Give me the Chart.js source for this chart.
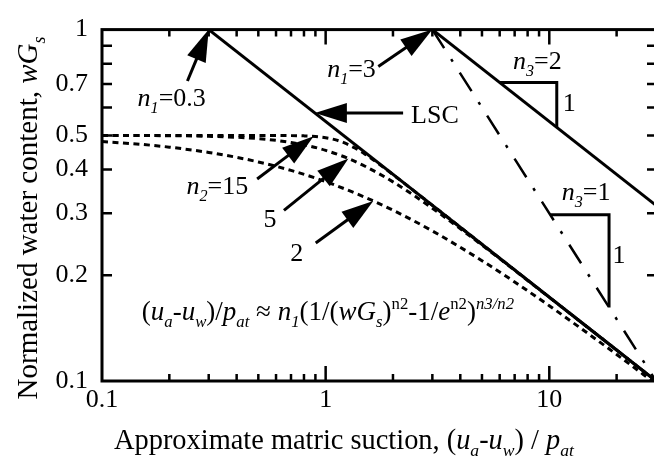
<!DOCTYPE html>
<html><head><meta charset="utf-8">
<script src="https://cdn.jsdelivr.net/npm/chart.js@4.4.1/dist/chart.umd.min.js"></script>
<style>
html,body{margin:0;padding:0;overflow:hidden;background:#fff;width:654px;height:467px}
#wrap{position:absolute;left:0;top:0;width:660px;height:467px}
</style>
</head><body><div id="wrap"><canvas id="c" width="660" height="467"></canvas></div>
<script>
// ---------- data ----------
const xTickValues = [0.1,0.2,0.3,0.4,0.5,0.6,0.7,0.8,0.9,1,2,3,4,5,6,7,8,9,10,20,30];
const xMajorTicks = [1,10];
const xTickLabels = ['0.1','1','10'];
const yTickValues = [0.1,0.2,0.3,0.4,0.5,0.6,0.7,0.8,0.9,1];
const yTickLabels = ['0.1','0.2','0.3','0.4','0.5','0.7','1'];

// LSC (n1=0.3, n3=2)
const lscX = [0.3, 30];
const lscY = [1, 0.1];
// n1=3, n3=2
const n3is2X = [3, 30];
const n3is2Y = [1, 0.316];
// n1=3, n3=1 (dash-dot)
const n3is1X = [3, 30];
const n3is1Y = [1, 0.1];
// dotted curves
const n2is15X = [0.1,0.3,0.5,0.7,0.8,0.9,1,1.1,1.2,1.35,1.5,1.75,2,2.5,3,5,10,20,30];
const n2is15Y = [0.5,0.5,0.5,0.4994,0.4984,0.4964,0.4925,0.4862,0.4774,0.4607,0.4421,0.4125,0.3868,0.3463,0.3162,0.2449,0.1732,0.1225,0.1];
const n2is5X = [0.1,0.2,0.3,0.5,0.7,0.85,1,1.25,1.5,2,3,5,7,10,15,20,30];
const n2is5Y = [0.4998,0.4989,0.497,0.4895,0.4774,0.466,0.4532,0.4308,0.4085,0.3687,0.3102,0.2436,0.2065,0.173,0.1414,0.1225,0.1];
const n2is2X = [0.1,0.15,0.2,0.3,0.4,0.5,0.7,1,1.5,2,3,5,7,10,15,20,30];
const n2is2Y = [0.4804,0.4714,0.4629,0.4472,0.433,0.4201,0.3974,0.3693,0.3333,0.3062,0.2673,0.22,0.1913,0.1637,0.1361,0.119,0.0981];
// slope triangles
const tri2X = [6, 10.8, 10.8];
const tri2Y = [0.7071, 0.7071, 0.527];
const tri1X = [10.1, 18.5, 18.5];
const tri1Y = [0.297, 0.297, 0.162];

// ---------- annotations (data coordinates) ----------
const arrows = [
  {from:[0.241,0.714], to:[0.3,1]},
  {from:[1.72,0.785],  to:[3,1]},
  {from:[2.22,0.579],  to:[0.895,0.579]},
  {from:[0.494,0.3756],to:[0.884,0.497]},
  {from:[0.651,0.306], to:[1.265,0.43]},
  {from:[0.903,0.247], to:[1.633,0.325]}
];
const labels = [
  {at:[0.205,0.605], align:'center', segs:[{t:'n',i:1},{t:'1',i:1,b:'sub'},{t:'=0.3'}]},
  {at:[1.305,0.732], align:'center', segs:[{t:'n',i:1},{t:'1',i:1,b:'sub'},{t:'=3'}]},
  {at:[2.41,0.543],  align:'left',   segs:[{t:'LSC'}]},
  {at:[0.328,0.341], align:'center', segs:[{t:'n',i:1},{t:'2',i:1,b:'sub'},{t:'=15'}]},
  {at:[0.564,0.275], align:'center', segs:[{t:'5'}]},
  {at:[0.743,0.220], align:'center', segs:[{t:'2'}]},
  {at:[8.84,0.770],  align:'center', segs:[{t:'n',i:1},{t:'3',i:1,b:'sub'},{t:'=2'}]},
  {at:[12.27,0.586], align:'center', segs:[{t:'1'}]},
  {at:[14.6,0.3265], align:'center', segs:[{t:'n',i:1},{t:'3',i:1,b:'sub'},{t:'=1'}]},
  {at:[20.5,0.216],  align:'center', segs:[{t:'1'}]},
  {at:[0.1507,0.149],align:'left', size:27, segs:[
    {t:'('},{t:'u',i:1},{t:'a',i:1,b:'sub'},{t:'-'},{t:'u',i:1},{t:'w',i:1,b:'sub'},{t:')/'},
    {t:'p',i:1},{t:'at',i:1,b:'sub'},{t:' \u2248 '},{t:'n',i:1},{t:'1',i:1,b:'sub'},
    {t:'(1/('},{t:'wG',i:1},{t:'s',i:1,b:'sub'},{t:')'},{t:'n2',b:'sup'},{t:'-1/'},{t:'e',i:1},{t:'n2',b:'sup'},{t:')'},{t:'n3/n2',i:1,b:'sup'}
  ]}
];

const FONT = '"Liberation Serif", "Times New Roman", serif';
const LBL = 26;
const TITLE = 28.4;

function pts(xs, ys){ return xs.map((x,i)=>({x:x, y:ys[i]})); }
function near(v, list){ return list.some(a => Math.abs(Math.log10(v) - Math.log10(a)) < 1e-6); }
function labelFor(v, list){ const s = list.find(a => Math.abs(Math.log10(v) - Math.log10(parseFloat(a))) < 1e-6); return s === undefined ? '' : s; }

function rich(ctx, segs, x, y, size, align){
  const parts = segs.map(s => {
    const sz = s.b ? size*0.62 : size;
    const f = (s.i ? 'italic ' : '') + sz + 'px ' + FONT;
    ctx.font = f;
    return {t:s.t, f:f, w:ctx.measureText(s.t).width, dy: s.b==='sub' ? size*0.26 : (s.b==='sup' ? -size*0.40 : 0)};
  });
  const W = parts.reduce((a,p)=>a+p.w, 0);
  let cx = align==='center' ? x - W/2 : (align==='right' ? x - W : x);
  ctx.textAlign = 'left'; ctx.textBaseline = 'alphabetic';
  for (const p of parts){ ctx.font = p.f; ctx.fillText(p.t, cx, y + p.dy); cx += p.w; }
  return W;
}

function arrow(ctx, x1,y1,x2,y2){
  const hl = 32, hw = 10;
  const a = Math.atan2(y2-y1, x2-x1);
  const bx = x2 - hl*Math.cos(a), by = y2 - hl*Math.sin(a);
  ctx.lineWidth = 3; ctx.lineCap = 'butt';
  ctx.beginPath(); ctx.moveTo(x1,y1); ctx.lineTo(bx + 2*Math.cos(a), by + 2*Math.sin(a)); ctx.stroke();
  ctx.beginPath(); ctx.moveTo(x2,y2);
  ctx.lineTo(bx + hw*Math.sin(a), by - hw*Math.cos(a));
  ctx.lineTo(bx - hw*Math.sin(a), by + hw*Math.cos(a));
  ctx.closePath(); ctx.fill();
}

const deco = {
  id:'deco',
  afterDatasetsDraw(chart){
    const ctx = chart.ctx, a = chart.chartArea, xs = chart.scales.x, ys = chart.scales.y;
    ctx.save();
    ctx.strokeStyle = '#000'; ctx.fillStyle = '#000';
    // frame
    ctx.lineWidth = 3;
    ctx.strokeRect(a.left, a.top, a.right - a.left, a.bottom - a.top);
    // inner ticks
    ctx.lineWidth = 2.5;
    ctx.beginPath();
    xTickValues.forEach(v => {
      if (v <= xs.min || v >= xs.max) return;
      const px = xs.getPixelForValue(v);
      const len = near(v, xMajorTicks) ? 15 : 7;
      ctx.moveTo(px, a.bottom); ctx.lineTo(px, a.bottom - len);
      ctx.moveTo(px, a.top); ctx.lineTo(px, a.top + len);
    });
    yTickValues.forEach(v => {
      if (v <= ys.min || v >= ys.max) return;
      const py = ys.getPixelForValue(v);
      ctx.moveTo(a.left, py); ctx.lineTo(a.left + 10, py);
      ctx.moveTo(a.right, py); ctx.lineTo(a.right - 9, py);
    });
    ctx.stroke();
    // arrows
    arrows.forEach(ar => arrow(ctx,
      xs.getPixelForValue(ar.from[0]), ys.getPixelForValue(ar.from[1]),
      xs.getPixelForValue(ar.to[0]), ys.getPixelForValue(ar.to[1])));
    // labels
    labels.forEach(l => rich(ctx, l.segs, xs.getPixelForValue(l.at[0]), ys.getPixelForValue(l.at[1]), l.size || LBL, l.align));
    // axis titles
    rich(ctx, [{t:'Approximate matric suction, ('},{t:'u',i:1},{t:'a',i:1,b:'sub'},{t:'-'},{t:'u',i:1},{t:'w',i:1,b:'sub'},{t:') / '},{t:'p',i:1},{t:'at',i:1,b:'sub'}],
      114, 449, TITLE, 'left');
    ctx.save();
    ctx.translate(37, 218);
    ctx.rotate(-Math.PI/2);
    rich(ctx, [{t:'Normalized water content, '},{t:'wG',i:1},{t:'s',i:1,b:'sub'}], 0, 0, 29, 'center');
    ctx.restore();
    ctx.restore();
  }
};

const solid = {borderColor:'#000', borderWidth:3, pointRadius:0, fill:false, tension:0};
const dotted = {borderColor:'#000', borderWidth:3, pointRadius:0, fill:false, borderDash:[6,4.5], cubicInterpolationMode:'monotone'};

new Chart(document.getElementById('c'), {
  type:'line',
  data:{ datasets:[
    Object.assign({label:'LSC', data:pts(lscX, lscY)}, solid),
    Object.assign({label:'n1=3, n3=2', data:pts(n3is2X, n3is2Y)}, solid),
    Object.assign({label:'n1=3, n3=1', data:pts(n3is1X, n3is1Y)}, solid, {borderWidth:2.5, borderDash:[22,13,3,13]}),
    Object.assign({label:'n2=15', data:pts(n2is15X, n2is15Y)}, dotted),
    Object.assign({label:'n2=5', data:pts(n2is5X, n2is5Y)}, dotted),
    Object.assign({label:'n2=2', data:pts(n2is2X, n2is2Y)}, dotted),
    Object.assign({label:'slope 1:2', data:pts(tri2X, tri2Y)}, solid),
    Object.assign({label:'slope 1:1', data:pts(tri1X, tri1Y)}, solid)
  ]},
  options:{
    responsive:false, animation:false, devicePixelRatio:1,
    layout:{padding:{top:19, right:1, left:0, bottom:0}},
    plugins:{legend:{display:false}, tooltip:{enabled:false}},
    scales:{
      x:{ type:'logarithmic', min:0.1, max:30, position:'bottom',
          grid:{display:false, drawTicks:false}, border:{display:false},
          afterBuildTicks(s){ s.ticks = xTickValues.map(v => ({value:v})); },
          afterFit(s){ s.height = 86; },
          ticks:{ autoSkip:false, maxRotation:0, padding:4, color:'#000',
                  font:{family:FONT, size:LBL},
                  callback:(v) => labelFor(v, xTickLabels) } },
      y:{ type:'logarithmic', min:0.1, max:1, position:'left',
          grid:{display:false, drawTicks:false}, border:{display:false},
          afterBuildTicks(s){ s.ticks = yTickValues.map(v => ({value:v})); },
          afterFit(s){ s.width = 102; },
          ticks:{ autoSkip:false, padding:14, color:'#000',
                  font:{family:FONT, size:LBL},
                  callback:(v) => labelFor(v, yTickLabels) } }
    }
  },
  plugins:[deco]
});
</script>
</body></html>
